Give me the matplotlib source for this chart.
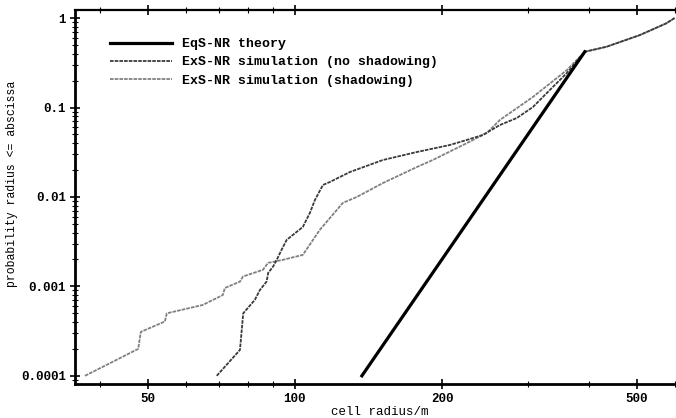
import matplotlib
matplotlib.use('Agg')
import matplotlib.pyplot as plt
from matplotlib.ticker import FixedLocator, FixedFormatter, LogLocator, NullFormatter

# EqS-NR theory (straight line in log-log)
theory_r = [137.1, 391.7]
theory_p = [1.0e-4, 0.42]

# ExS-NR simulation (no shadowing)
noshad_r = [69.2, 77.2, 78.4, 82.8, 84.8, 87.5, 88.2, 90.2, 91.8, 93.9, 96.2,
            103.8, 107.3, 109.9, 114.1, 117.9, 129.6, 151.4, 177.6, 207.5,
            224.8, 242.4, 262.6, 284.4, 306.7, 332.3, 360.0, 391.7]
noshad_p = [1.0e-4, 1.95e-4, 5.0e-4, 7.07e-4, 9.1e-4, 1.13e-3, 1.42e-3, 1.66e-3,
            1.98e-3, 2.56e-3, 3.31e-3, 4.62e-3, 6.62e-3, 9.25e-3, 0.0136, 0.0147,
            0.0190, 0.0259, 0.0318, 0.0381, 0.0434, 0.0493, 0.0637, 0.0763,
            0.101, 0.157, 0.243, 0.42]

# ExS-NR simulation (shadowing)
shad_r = [37.2, 47.8, 48.4, 49.7, 54.2, 54.7, 59.0, 64.8, 71.2, 71.9, 77.2,
          78.3, 86.0, 88.1, 94.5, 103.8, 112.5, 125.4, 133.9, 151.4, 177.6,
          191.5, 224.8, 247.0, 262.6, 306.7, 360.0, 391.7]
shad_p = [1.0e-4, 2.0e-4, 3.1e-4, 3.3e-4, 4.05e-4, 5.0e-4, 5.5e-4, 6.2e-4,
          8.0e-4, 9.6e-4, 1.13e-3, 1.29e-3, 1.53e-3, 1.83e-3, 1.98e-3, 2.25e-3,
          4.3e-3, 8.6e-3, 0.010, 0.0143, 0.0216, 0.0259, 0.040, 0.052, 0.0725,
          0.131, 0.262, 0.42]

# common upper tail where all curves meet
tail_r = [391.7, 434.0, 508.0, 575.0, 598.0]
tail_p = [0.42, 0.478, 0.646, 0.873, 1.0]

x_ticks = [50, 100, 200, 500]
y_ticks = [1e-4, 1e-3, 1e-2, 1e-1, 1]
y_labels = ['0.0001', '0.001', '0.01', '0.1', '1']

plt.rcParams['font.family'] = ['Liberation Mono', 'DejaVu Sans Mono']
plt.rcParams['font.weight'] = 'bold'
plt.rcParams['font.size'] = 9

fig = plt.figure(figsize=(6.76, 4.18), dpi=100)
ax = fig.add_axes([0.111, 0.081, 0.889, 0.895])

ax.plot(noshad_r + tail_r[1:], noshad_p + tail_p[1:], color='#3a3a3a', lw=1.3,
        ls=(0, (2, 0.6)), label='ExS-NR simulation (no shadowing)', zorder=3)
ax.plot(shad_r + tail_r[1:], shad_p + tail_p[1:], color='#808080', lw=1.3,
        ls=(0, (2, 0.6)), label='ExS-NR simulation (shadowing)', zorder=2)
ax.plot(theory_r, theory_p, color='black', lw=2.3, label='EqS-NR theory', zorder=4)

ax.set_xscale('log')
ax.set_yscale('log')
ax.set_xlim(35.5, 602)
ax.set_ylim(8.07e-5, 1.23)

ax.xaxis.set_major_locator(FixedLocator(x_ticks))
ax.xaxis.set_major_formatter(FixedFormatter([str(t) for t in x_ticks]))
ax.xaxis.set_minor_locator(LogLocator(base=10, subs=range(1, 10)))
ax.xaxis.set_minor_formatter(NullFormatter())
ax.yaxis.set_major_locator(FixedLocator(y_ticks))
ax.yaxis.set_major_formatter(FixedFormatter(y_labels))
ax.yaxis.set_minor_locator(LogLocator(base=10, subs=range(1, 10)))
ax.yaxis.set_minor_formatter(NullFormatter())

ax.tick_params(which='major', direction='inout', length=7, width=1.2,
               top=True, labelsize=9, pad=3)
ax.tick_params(which='minor', direction='inout', length=4, width=0.8, top=True)

for s in ['left', 'bottom']:
    ax.spines[s].set_linewidth(2)
ax.spines['top'].set_linewidth(1.6)
ax.spines['right'].set_visible(False)

ax.set_xlabel('cell radius/m', fontsize=9)
ax.xaxis.set_label_coords(0.507, -0.058)
ax.set_ylabel('probability radius <= abscissa', fontsize=8.3)
ax.yaxis.set_label_coords(-0.095, 0.535)

handles, labels = ax.get_legend_handles_labels()
order = [2, 0, 1]
ax.legend([handles[i] for i in order], [labels[i] for i in order],
          loc='upper left', bbox_to_anchor=(0.058, 0.925), frameon=False,
          borderpad=0, borderaxespad=0, handlelength=4.7, handletextpad=0.75,
          labelspacing=0.45, fontsize=9.5)

fig.savefig('out.png', dpi=100)
